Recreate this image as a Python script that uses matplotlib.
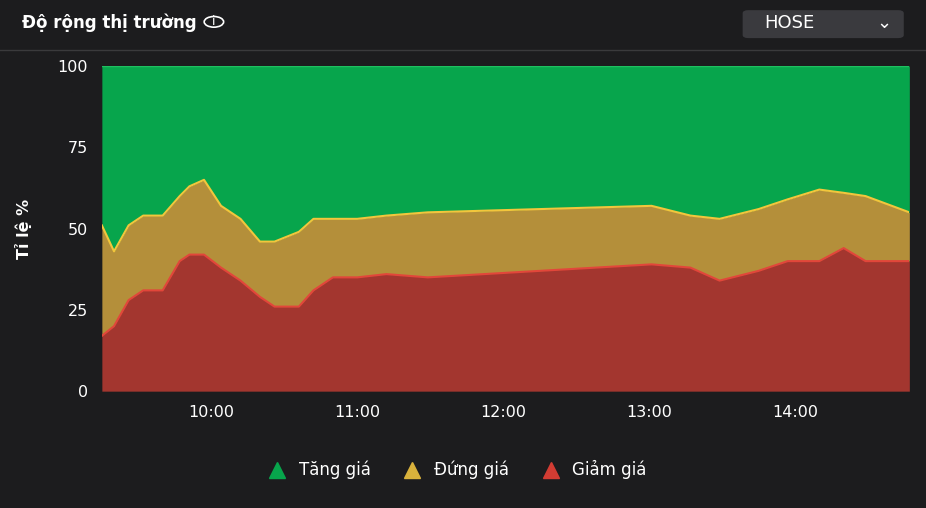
import matplotlib.pyplot as plt
from matplotlib.patches import FancyBboxPatch, Circle
from matplotlib.lines import Line2D

# times (HH:MM) and stacked percentages
times = ['09:15', '09:20', '09:26', '09:32', '09:40', '09:47', '09:51', '09:57', '10:04',
         '10:12', '10:20', '10:26', '10:36', '10:42', '10:50', '11:00', '11:12', '11:29',
         '13:01', '13:17', '13:29', '13:45', '13:57', '14:10', '14:20', '14:29', '14:47']
giam = [17, 20, 28, 31, 31, 40, 42, 42, 38, 34, 29, 26, 26, 31, 35, 35, 36, 35,
        39, 38, 34, 37, 40, 40, 44, 40, 40]
giam_dung = [51, 43, 51, 54, 54, 60, 63, 65, 57, 53, 46, 46, 49, 53, 53, 53, 54, 55,
             57, 54, 53, 56, 59, 62, 61, 60, 55]

x = [int(t[:2]) + int(t[3:]) / 60 for t in times]

bg = '#1c1c1e'
fig = plt.figure(figsize=(9.26, 5.08), dpi=100, facecolor=bg)
ax = fig.add_axes([0.110, 0.230, 0.872, 0.640])
ax.set_facecolor(bg)

ax.fill_between(x, 0, giam, color='#a3362f', lw=0)
ax.fill_between(x, giam, giam_dung, color='#b48f3a', lw=0)
ax.fill_between(x, giam_dung, 100, color='#07a54c', lw=0)
ax.plot(x, giam, color='#e2463a', lw=1.5)
ax.plot(x, giam_dung, color='#f2c63c', lw=1.5)
ax.plot(x, [100] * len(x), color='#1fc060', lw=1)

ax.set_xlim(x[0], x[-1])
ax.set_ylim(0, 100)
ax.set_yticks([0, 25, 50, 75, 100])
ax.set_xticks([10, 11, 12, 13, 14])
ax.set_xticklabels(['10:00', '11:00', '12:00', '13:00', '14:00'])
ax.tick_params(colors='white', labelsize=11.5, length=0, pad=10)
for s in ax.spines.values():
    s.set_visible(False)
ax.set_ylabel('Tỉ lệ %', color='white', fontsize=11.5, fontweight='bold', labelpad=18)

# header
fig.text(0.024, 0.955, 'Độ rộng thị trường', color='white', fontsize=12, fontweight='bold', va='center')
fig.add_artist(Circle((0.231, 0.957), 0.0105, transform=fig.transFigure, fill=False,
                      edgecolor='white', lw=1.2))
ax_i = fig.text(0.231, 0.957, 'i', color='white', fontsize=9, va='center', ha='center')
fig.add_artist(Line2D([0, 1], [0.902, 0.902], color='#3a3a3c', lw=1))
fig.add_artist(FancyBboxPatch((0.802, 0.925), 0.174, 0.055, boxstyle='round,pad=0,rounding_size=0.006',
                              facecolor='#3a3a3e', edgecolor='none', transform=fig.transFigure))
fig.text(0.825, 0.955, 'HOSE', color='white', fontsize=13, va='center')
fig.text(0.955, 0.955, '⌄', color='white', fontsize=13, va='center', ha='center')

handles = [Line2D([], [], marker='^', ls='', ms=11, color='#07a54c'),
           Line2D([], [], marker='^', ls='', ms=11, color='#d9b23c'),
           Line2D([], [], marker='^', ls='', ms=11, color='#d23c33')]
fig.legend(handles, ['Tăng giá', 'Đứng giá', 'Giảm giá'], loc='center', bbox_to_anchor=(0.49, 0.075),
           ncol=3, frameon=False, labelcolor='white', fontsize=12, handletextpad=0.3, columnspacing=1.5)

fig.savefig('out.png', dpi=100, facecolor=bg)
